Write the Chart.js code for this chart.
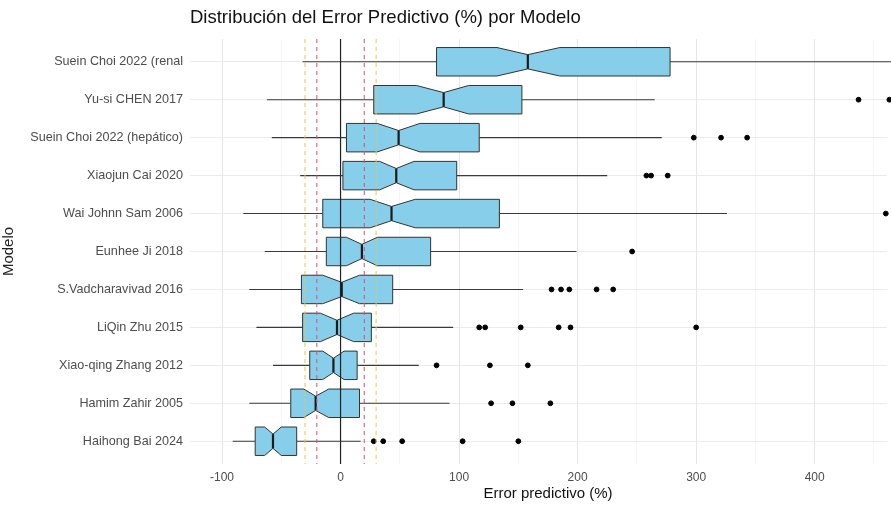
<!DOCTYPE html>
<html>
<head>
<meta charset="utf-8">
<script src="https://cdn.jsdelivr.net/npm/chart.js@4.4.1/dist/chart.umd.min.js"></script>
<style>
  html, body { margin: 0; padding: 0; background: #fff; overflow: hidden; }
  #wrap { width: 891px; height: 506px; position: relative; }
</style>
</head>
<body>
<div id="wrap"><canvas id="myChart"></canvas></div>
<script>
// models, top to bottom
const models = [
  "Suein Choi 2022 (renal",
  "Yu-si CHEN 2017",
  "Suein Choi 2022 (hepático)",
  "Xiaojun Cai 2020",
  "Wai Johnn Sam 2006",
  "Eunhee Ji 2018",
  "S.Vadcharavivad 2016",
  "LiQin Zhu 2015",
  "Xiao-qing Zhang 2012",
  "Hamim Zahir 2005",
  "Haihong Bai 2024"
];

// box statistics (%)
const whiskerLow  = [-32, -62, -58, -34, -82, -64, -77, -71, -57, -77, -91];
const q1          = [ 81,  28,   5,   2, -15, -12, -33, -32, -26, -42, -72];
const median      = [158,  87,  49,  47,  43,  18,   1,  -3,  -6, -21, -57];
const q3          = [278, 153, 117,  98, 134,  76,  44,  26,  14,  16, -37];
const whiskerHigh = [600, 265, 271, 225, 326, 199, 154,  95,  66,  92,  17];
const notchLow    = [132,  64,  31,  33,  25,   5, -15, -17, -15, -31, -64];
const notchHigh   = [185, 108,  67,  62,  63,  31,  16,  11,   3, -10, -50];

// outliers per model
const outliers = [
  [],
  [437, 463],
  [298, 321, 343],
  [258, 262, 276],
  [460],
  [246],
  [178, 186, 193, 216, 230],
  [117, 122, 152, 184, 194, 300],
  [81, 126, 158],
  [127, 145, 177],
  [28, 36, 52, 103, 150]
];

// reference lines
const refSolid = [0];
const refRed = [-20, 20];
const refYellow = [-30, 30];

const outlierPoints = [];
outliers.forEach((vals, i) => {
  vals.forEach((v) => outlierPoints.push({ x: v, y: i }));
});

const FONT = "'Liberation Sans', Arial, sans-serif";

// draws notched boxes, whiskers, reference lines and titles
const boxPlugin = {
  id: "boxPlugin",
  beforeDatasetsDraw(chart) {
    const c = chart.ctx;
    const xs = chart.scales.x;
    const ys = chart.scales.y;
    const area = chart.chartArea;
    const half = Math.abs(ys.getPixelForValue(0.375) - ys.getPixelForValue(0));
    c.save();
    c.beginPath();
    c.rect(area.left, area.top, area.right - area.left + 6, area.bottom - area.top);
    c.clip();
    models.forEach((m, i) => {
      const y = ys.getPixelForValue(i);
      const px = (v) => xs.getPixelForValue(v);
      // whiskers
      c.strokeStyle = "#3a3a3a";
      c.lineWidth = 1.1;
      c.beginPath();
      c.moveTo(px(whiskerLow[i]), y);
      c.lineTo(px(q1[i]), y);
      c.moveTo(px(q3[i]), y);
      c.lineTo(px(whiskerHigh[i]), y);
      c.stroke();
      // notched box
      const top = y - half, bot = y + half, ind = half * 0.5;
      c.beginPath();
      c.moveTo(px(q1[i]), top);
      c.lineTo(px(notchLow[i]), top);
      c.lineTo(px(median[i]), top + ind);
      c.lineTo(px(notchHigh[i]), top);
      c.lineTo(px(q3[i]), top);
      c.lineTo(px(q3[i]), bot);
      c.lineTo(px(notchHigh[i]), bot);
      c.lineTo(px(median[i]), bot - ind);
      c.lineTo(px(notchLow[i]), bot);
      c.lineTo(px(q1[i]), bot);
      c.closePath();
      c.fillStyle = "#87CEEB";
      c.fill();
      c.strokeStyle = "#333333";
      c.lineWidth = 1;
      c.stroke();
      // median
      c.strokeStyle = "#1a1a1a";
      c.lineWidth = 2.2;
      c.beginPath();
      c.moveTo(px(median[i]), top + ind);
      c.lineTo(px(median[i]), bot - ind);
      c.stroke();
    });
    c.restore();
  },
  afterDatasetsDraw(chart) {
    const c = chart.ctx;
    const xs = chart.scales.x;
    const area = chart.chartArea;
    const vline = (v, color, dash, w) => {
      const x = xs.getPixelForValue(v);
      c.save();
      c.strokeStyle = color;
      c.lineWidth = w;
      c.setLineDash(dash);
      c.beginPath();
      c.moveTo(x, area.top);
      c.lineTo(x, area.bottom);
      c.stroke();
      c.restore();
    };
    refSolid.forEach((v) => vline(v, "#222222", [], 1.2));
    refRed.forEach((v) => vline(v, "#d9506a", [4, 4], 1));
    refYellow.forEach((v) => vline(v, "#e8c840", [4, 4], 1));
  },
  afterDraw(chart) {
    const c = chart.ctx;
    c.save();
    c.fillStyle = "#111";
    c.textBaseline = "middle";
    c.font = "18.5px " + FONT;
    c.textAlign = "left";
    c.fillText("Distribución del Error Predictivo (%) por Modelo", 190, 18);
    c.font = "15px " + FONT;
    c.textAlign = "center";
    c.fillText("Error predictivo (%)", 548, 494);
    c.restore();
  }
};

const ctx = document.getElementById("myChart");

new Chart(ctx, {
  type: "scatter",
  data: {
    datasets: [
      {
        label: "Outliers",
        data: outlierPoints,
        backgroundColor: "#000",
        borderColor: "#000",
        pointRadius: 2.4,
        pointHoverRadius: 3,
        clip: false,
      },
    ],
  },
  options: {
    responsive: true,
    maintainAspectRatio: false,
    animation: false,
    layout: { padding: { top: 39, right: 0, left: 0, bottom: 0 } },
    plugins: {
      legend: { display: false },
      tooltip: { enabled: false },
    },
    scales: {
      x: {
        type: "linear",
        min: -127,
        max: 461,
        border: { display: false },
        afterFit: (scale) => { scale.height = 42; },
        ticks: {
          stepSize: 50,
          includeBounds: false,
          autoSkip: false,
          maxRotation: 0,
          padding: 6,
          color: "#4d4d4d",
          font: { family: FONT, size: 12 },
          callback: (v) => (v % 100 === 0 ? v : ""),
        },
        grid: {
          drawTicks: false,
          color: (c) => (c.tick && c.tick.value % 100 === 0 ? "#e6e6e6" : "#f2f2f2"),
          lineWidth: (c) => (c.tick && c.tick.value % 100 === 0 ? 1 : 0.7),
        },
      },
      y: {
        type: "linear",
        reverse: true,
        min: -0.6,
        max: 10.6,
        border: { display: false },
        afterFit: (scale) => { scale.width = 190; },
        ticks: {
          stepSize: 1,
          includeBounds: false,
          autoSkip: false,
          padding: 7,
          color: "#4d4d4d",
          font: { family: FONT, size: 12.6 },
          callback: (v) => (Number.isInteger(v) ? models[v] : ""),
        },
        grid: {
          drawTicks: false,
          color: "#ebebeb",
          lineWidth: 1,
        },
        title: {
          display: true,
          text: "Modelo",
          color: "#222",
          font: { family: FONT, size: 15 },
          padding: { top: 0, bottom: 0 },
        },
      },
    },
  },
  plugins: [boxPlugin],
});
</script>
</body>
</html>
